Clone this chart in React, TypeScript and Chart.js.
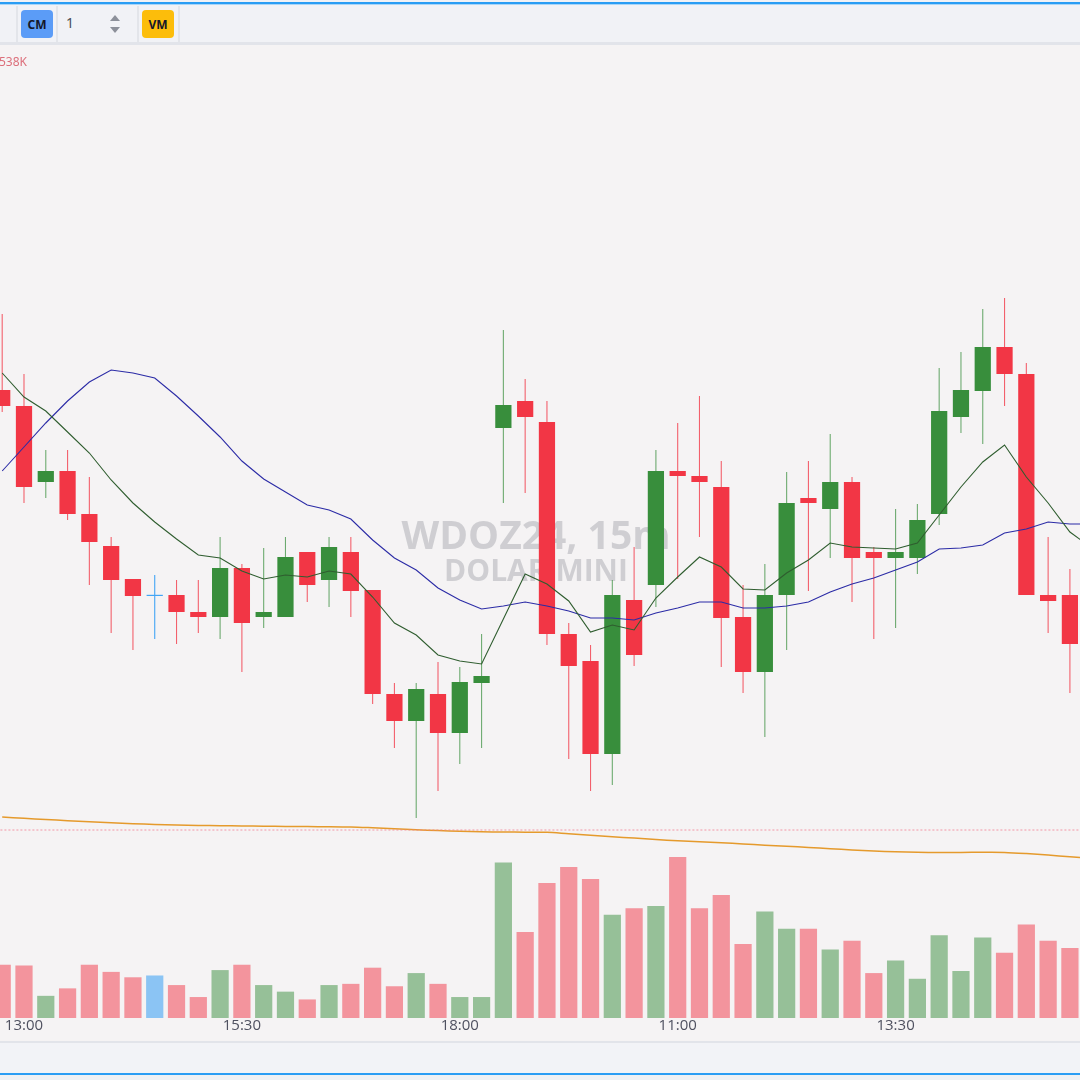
import React, { useEffect, useRef } from 'react';
import { Chart, registerables } from 'chart.js';

Chart.register(...registerables);

// ---- DATA ----
const times = [
  '12:45', '13:00', '13:15', '13:30', '13:45', '14:00', '14:15', '14:30', '14:45', '15:00',
  '15:15', '15:30', '15:45', '16:00', '16:15', '16:30', '16:45', '17:00', '17:15', '17:30',
  '17:45', '18:00', '18:15', '09:00', '09:15', '09:30', '09:45', '10:00', '10:15', '10:30',
  '10:45', '11:00', '11:15', '11:30', '11:45', '12:00', '12:15', '12:30', '12:45', '13:00',
  '13:15', '13:30', '13:45', '14:00', '14:15', '14:30', '14:45', '15:00', '15:15', '15:30',
];
const tickIndexes = [1, 11, 21, 31, 41];

const opens = [
  5843.0, 5841.4, 5833.8, 5834.9, 5830.6, 5827.4, 5824.1, 5822.4, 5822.5, 5820.8,
  5820.3, 5825.2, 5820.3, 5820.3, 5826.8, 5824.0, 5826.8, 5823.0, 5812.6, 5809.9,
  5812.6, 5808.7, 5813.7, 5839.2, 5841.9, 5839.8, 5818.6, 5815.9, 5806.6, 5822.0,
  5823.5, 5834.9, 5834.4, 5833.3, 5820.3, 5814.8, 5822.5, 5832.2, 5831.1, 5833.8,
  5826.8, 5826.2, 5826.2, 5830.6, 5840.3, 5842.9, 5847.3, 5844.6, 5822.5, 5822.5,
];
const highs = [
  5850.6, 5844.6, 5837.0, 5837.0, 5834.3, 5828.3, 5824.1, 5824.5, 5824.0, 5824.0,
  5828.3, 5825.6, 5827.2, 5828.3, 5826.8, 5828.3, 5828.3, 5823.0, 5813.7, 5813.7,
  5815.8, 5815.3, 5818.6, 5849.0, 5844.1, 5841.9, 5819.7, 5817.5, 5824.0, 5827.3,
  5837.0, 5839.7, 5842.4, 5835.9, 5823.5, 5825.6, 5834.8, 5835.9, 5838.6, 5834.3,
  5827.3, 5831.1, 5831.6, 5845.2, 5846.8, 5851.1, 5852.2, 5845.7, 5828.3, 5825.1,
];
const lows = [
  5840.8, 5831.7, 5832.2, 5830.0, 5823.5, 5818.7, 5817.0, 5818.1, 5817.6, 5818.7,
  5818.1, 5814.8, 5819.2, 5820.3, 5821.8, 5821.3, 5820.3, 5811.6, 5807.2, 5800.2,
  5802.9, 5805.6, 5807.2, 5831.7, 5832.7, 5817.5, 5806.1, 5802.9, 5803.5, 5815.4,
  5821.3, 5824.1, 5828.3, 5815.3, 5812.7, 5808.3, 5817.0, 5822.9, 5826.2, 5821.8,
  5818.1, 5819.2, 5824.6, 5829.5, 5838.7, 5837.6, 5841.4, 5822.5, 5818.7, 5812.7,
];
const closes = [
  5841.4, 5833.3, 5834.9, 5830.6, 5827.8, 5824.0, 5822.4, 5822.4, 5820.8, 5820.3,
  5825.2, 5819.7, 5820.8, 5826.3, 5823.5, 5827.3, 5822.9, 5812.6, 5809.9, 5813.1,
  5808.7, 5813.8, 5814.4, 5841.5, 5840.3, 5818.6, 5815.4, 5806.6, 5822.5, 5816.5,
  5834.9, 5834.4, 5833.8, 5820.2, 5814.8, 5822.5, 5831.7, 5831.7, 5833.8, 5826.2,
  5826.2, 5826.8, 5830.0, 5840.9, 5843.0, 5847.3, 5844.6, 5822.5, 5821.9, 5817.6,
];
// volume in thousands of contracts
const volumes = [
  178, 175, 74, 99, 178, 154, 136, 142, 110, 70,
  160, 178, 110, 88, 62, 110, 114, 168, 106, 150,
  114, 70, 70, 519, 287, 451, 504, 464, 345, 367,
  374, 538, 367, 411, 247, 356, 298, 298, 229, 258,
  150, 192, 131, 276, 157, 269, 218, 312, 258, 234,
];
const maFast = [
  5844.7, 5842.3, 5840.9, 5838.8, 5836.7, 5834.0, 5831.7, 5829.8, 5828.1, 5826.5,
  5826.2, 5824.9, 5824.1, 5824.5, 5824.3, 5824.9, 5824.6, 5822.3, 5819.7, 5818.5,
  5816.5, 5815.9, 5815.6, 5820.1, 5824.6, 5823.6, 5821.9, 5818.8, 5819.5, 5819.0,
  5822.2, 5824.3, 5826.3, 5825.3, 5823.1, 5823.0, 5824.7, 5826.0, 5827.7, 5827.3,
  5827.2, 5827.1, 5827.7, 5830.5, 5833.3, 5835.8, 5837.5, 5834.3, 5831.7, 5828.8,
  5827.2,
];
const maSlow = [
  5834.9, 5837.3, 5839.7, 5841.9, 5843.8, 5845.0, 5844.7, 5844.2, 5842.4, 5840.4,
  5838.3, 5835.9, 5834.1, 5832.8, 5831.5, 5831.0, 5830.1, 5828.0, 5826.2, 5825.0,
  5823.2, 5822.0, 5821.1, 5821.4, 5821.8, 5821.4, 5820.9, 5820.2, 5820.2, 5820.0,
  5820.7, 5821.2, 5821.8, 5821.8, 5821.2, 5821.2, 5821.4, 5821.8, 5822.8, 5823.6,
  5824.2, 5825.0, 5825.8, 5827.1, 5827.2, 5827.5, 5828.7, 5829.1, 5829.8, 5829.6,
  5829.6,
];
const ma200 = [
  5800.30, 5800.17, 5800.05, 5799.93, 5799.82, 5799.72, 5799.63, 5799.55, 5799.50, 5799.46,
  5799.43, 5799.40, 5799.38, 5799.36, 5799.34, 5799.33, 5799.30, 5799.22, 5799.13, 5799.03,
  5798.94, 5798.87, 5798.82, 5798.80, 5798.78, 5798.77, 5798.62, 5798.48, 5798.32, 5798.20,
  5798.05, 5797.93, 5797.83, 5797.73, 5797.60, 5797.48, 5797.38, 5797.25, 5797.13, 5797.00,
  5796.90, 5796.82, 5796.77, 5796.76, 5796.76, 5796.77, 5796.76, 5796.65, 5796.50, 5796.32,
  5796.15,
];
const referenceLevel = 5799.0;
const watermarkTitle = 'WDOZ24, 15m';
const watermarkSub = 'DOLAR MINI';
const volumeLabel = '538K';

// ---- STYLE ----
const RED = '#f23645';
const GREEN = '#388e3c';
const BLUE = '#42a5f5';

export default function App() {
  const canvasRef = useRef<HTMLCanvasElement>(null);

  useEffect(() => {
    const canvas = canvasRef.current;
    if (!canvas) return;

    const dir = (i: number) => (closes[i] > opens[i] ? 1 : closes[i] < opens[i] ? -1 : 0);
    const bodyColors = opens.map((_, i) => (dir(i) > 0 ? GREEN : dir(i) < 0 ? RED : BLUE));
    const wickColors = opens.map((_, i) =>
      dir(i) > 0 ? 'rgba(56,142,60,0.72)' : dir(i) < 0 ? 'rgba(242,54,69,0.78)' : BLUE,
    );
    const volColors = opens.map((_, i) =>
      dir(i) > 0 ? 'rgba(56,142,60,0.5)' : dir(i) < 0 ? 'rgba(242,54,69,0.5)' : 'rgba(33,150,243,0.5)',
    );

    const watermark = {
      id: 'watermark',
      beforeDatasetsDraw(chart: any) {
        const { ctx, chartArea } = chart;
        const cx = chartArea.left + (chartArea.right - chartArea.left) * 0.4963;
        ctx.save();
        ctx.fillStyle = 'rgba(120,123,134,0.3)';
        ctx.textAlign = 'center';
        ctx.textBaseline = 'alphabetic';
        ctx.font = 'bold 39px "Open Sans", "Noto Sans", sans-serif';
        ctx.fillText(watermarkTitle, cx, chartArea.top + 503.5);
        ctx.font = 'bold 30px "Open Sans", "Noto Sans", sans-serif';
        ctx.fillText(watermarkSub, cx, chartArea.top + 536);
        ctx.restore();
      },
    };

    const chart = new Chart(canvas, {
      type: 'bar',
      data: {
        datasets: [
          {
            type: 'line',
            label: 'MA fast',
            data: maFast.map((v, i) => ({ x: i, y: v })),
            borderColor: '#2f5d2f',
            borderWidth: 1.1,
            pointRadius: 0,
            tension: 0,
            yAxisID: 'y',
            order: 1,
          },
          {
            type: 'line',
            label: 'MA slow',
            data: maSlow.map((v, i) => ({ x: i, y: v })),
            borderColor: '#2b2ba6',
            borderWidth: 1.1,
            pointRadius: 0,
            tension: 0,
            yAxisID: 'y',
            order: 2,
          },
          {
            type: 'bar',
            label: 'Body',
            data: opens.map((o, i) => ({ x: i, y: [o, closes[i]] })),
            backgroundColor: bodyColors,
            borderWidth: 0,
            grouped: false,
            categoryPercentage: 1,
            barPercentage: 0.745,
            minBarLength: 1.2,
            yAxisID: 'y',
            order: 3,
          },
          {
            type: 'bar',
            label: 'Wick',
            data: lows.map((l, i) => ({ x: i, y: [l, highs[i]] })),
            backgroundColor: wickColors,
            borderWidth: 0,
            grouped: false,
            categoryPercentage: 1,
            barPercentage: 0.05,
            yAxisID: 'y',
            order: 4,
          },
          {
            type: 'line',
            label: 'Level',
            data: [
              { x: -1, y: referenceLevel },
              { x: 51, y: referenceLevel },
            ],
            borderColor: 'rgba(242,120,140,0.75)',
            borderWidth: 1,
            borderDash: [2, 2],
            pointRadius: 0,
            yAxisID: 'y',
            order: 5,
          },
          {
            type: 'line',
            label: 'MA 200',
            data: ma200.map((v, i) => ({ x: i, y: v })),
            borderColor: '#e59a2c',
            borderWidth: 1.5,
            pointRadius: 0,
            tension: 0.3,
            yAxisID: 'y',
            order: 6,
          },
          {
            type: 'bar',
            label: 'Volume',
            data: volumes.map((v, i) => ({ x: i, y: v })),
            backgroundColor: volColors,
            borderWidth: 0,
            grouped: false,
            categoryPercentage: 1,
            barPercentage: 0.79,
            yAxisID: 'yVol',
            order: 10,
          },
        ] as any,
      },
      options: {
        animation: false,
        responsive: false,
        maintainAspectRatio: false,
        events: [],
        layout: { padding: 0 },
        plugins: {
          legend: { display: false },
          tooltip: { enabled: false },
        },
        scales: {
          x: {
            type: 'linear',
            min: -0.101,
            max: 49.463,
            offset: false,
            grid: { display: false, drawTicks: false },
            border: { display: false },
            afterBuildTicks: (scale: any) => {
              scale.ticks = tickIndexes.map((v) => ({ value: v }));
            },
            afterFit: (scale: any) => {
              scale.height = 23;
            },
            ticks: {
              autoSkip: false,
              maxRotation: 0,
              minRotation: 0,
              padding: 0,
              color: '#4f5160',
              font: { family: '"Open Sans", "Noto Sans", sans-serif', size: 15, lineHeight: 1 },
              callback: (v: any) => times[Math.round(Number(v))] ?? '',
            },
          },
          y: {
            type: 'linear',
            display: false,
            min: 5780.2,
            max: 5877.5,
          },
          yVol: {
            type: 'linear',
            display: false,
            min: 0,
            max: 3250,
          },
        },
      } as any,
      plugins: [watermark],
    });

    return () => chart.destroy();
  }, []);

  const sep = (left: number) => (
    <div
      style={{ position: 'absolute', left, top: 6, width: 2, height: 36, background: '#e3e5ea' }}
    />
  );

  return (
    <div
      style={{
        position: 'fixed',
        left: 0,
        top: 0,
        width: 1080,
        height: 1080,
        overflow: 'hidden',
        background: '#f1f2f6',
        fontFamily: '"Noto Sans", "Open Sans", sans-serif',
      }}
    >
      {/* top frame line */}
      <div style={{ position: 'absolute', left: 0, top: 2, width: 1080, height: 2, background: '#2a9df4' }} />
      <div style={{ position: 'absolute', left: 0, top: 4, width: 1080, height: 1, background: '#a9d6f8' }} />

      {/* toolbar */}
      {sep(16)}
      <div
        style={{
          position: 'absolute',
          left: 21,
          top: 10,
          width: 32,
          height: 28,
          borderRadius: 4,
          background: '#5b9cf7',
          color: '#14182a',
          fontSize: 12,
          fontWeight: 700,
          display: 'flex',
          alignItems: 'center',
          justifyContent: 'center',
        }}
      >
        CM
      </div>
      {sep(56)}
      <div
        style={{
          position: 'absolute',
          left: 66,
          top: 13,
          fontSize: 14,
          lineHeight: '20px',
          color: '#4a4d57',
        }}
      >
        1
      </div>
      <div
        style={{
          position: 'absolute',
          left: 110,
          top: 15,
          width: 0,
          height: 0,
          borderLeft: '5.5px solid transparent',
          borderRight: '5.5px solid transparent',
          borderBottom: '6px solid #8c909a',
        }}
      />
      <div
        style={{
          position: 'absolute',
          left: 110,
          top: 27,
          width: 0,
          height: 0,
          borderLeft: '5.5px solid transparent',
          borderRight: '5.5px solid transparent',
          borderTop: '6px solid #8c909a',
        }}
      />
      {sep(137)}
      <div
        style={{
          position: 'absolute',
          left: 142,
          top: 10,
          width: 32,
          height: 28,
          borderRadius: 4,
          background: '#fcbd0b',
          color: '#14182a',
          fontSize: 12,
          fontWeight: 700,
          display: 'flex',
          alignItems: 'center',
          justifyContent: 'center',
        }}
      >
        VM
      </div>
      {sep(178)}
      <div style={{ position: 'absolute', left: 0, top: 42, width: 1080, height: 3, background: '#e2e4ea' }} />

      {/* chart pane */}
      <div
        style={{
          position: 'absolute',
          left: 0,
          top: 45,
          width: 1080,
          height: 996,
          background: '#f5f3f4',
        }}
      >
        <canvas ref={canvasRef} width={1080} height={996} style={{ display: 'block', width: 1080, height: 996 }} />
        <div
          style={{
            position: 'absolute',
            left: -1,
            top: 9,
            fontSize: 12,
            lineHeight: '16px',
            color: '#dc6f7b',
            whiteSpace: 'nowrap',
          }}
        >
          {volumeLabel}
        </div>
      </div>

      {/* bottom frame */}
      <div style={{ position: 'absolute', left: 0, top: 1041, width: 1080, height: 2, background: '#e2e4ea' }} />
      <div style={{ position: 'absolute', left: 0, top: 1043, width: 1080, height: 30, background: '#f2f3f7' }} />
      <div style={{ position: 'absolute', left: 0, top: 1073, width: 1080, height: 2, background: '#2a9df4' }} />
      <div style={{ position: 'absolute', left: 0, top: 1075, width: 1080, height: 5, background: '#eef0f4' }} />
    </div>
  );
}
